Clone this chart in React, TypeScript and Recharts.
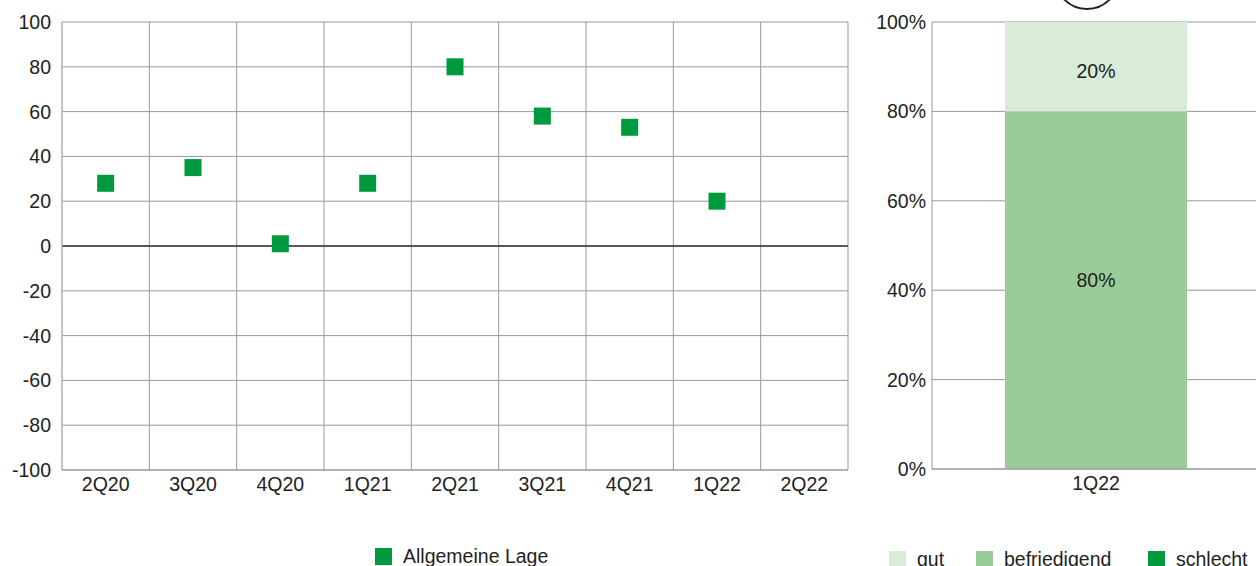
import {
    ComposedChart,
    Scatter,
    XAxis,
    YAxis,
    CartesianGrid,
    ReferenceLine,
    BarChart,
    Bar,
    LabelList,
} from "recharts";

const QUARTERS = ["2Q20", "3Q20", "4Q20", "1Q21", "2Q21", "3Q21", "4Q21", "1Q22", "2Q22"];
const ALLGEMEINE_LAGE: (number | null)[] = [28, 35, 1, 28, 80, 58, 53, 20, null];
const LEFT_TICKS = [-100, -80, -60, -40, -20, 0, 20, 40, 60, 80, 100];

const BAR_CATEGORY = ["1Q22"];
const GUT = [20];
const BEFRIEDIGEND = [80];
const SCHLECHT = [0];
const RIGHT_TICKS = [0, 20, 40, 60, 80, 100];

const GREEN = "#009a3e";
const MID_GREEN = "#99cc99";
const LIGHT_GREEN = "#d9ebd9";
const FONT = "'Liberation Sans', Arial, sans-serif";
const FS = 19.5;
const TEXT = "#222";

const scatterData = QUARTERS.map((q, i) => ({ q, x: i + 0.5, v: ALLGEMEINE_LAGE[i] })).filter(
    (d) => d.v !== null
);

const barData = BAR_CATEGORY.map((c, i) => ({
    c,
    schlecht: SCHLECHT[i],
    befriedigend: BEFRIEDIGEND[i],
    gut: GUT[i],
}));

const SquareDot = (props: any) => {
    const { cx, cy } = props;
    if (cx == null || cy == null) return null;
    return <rect x={cx - 8.5} y={cy - 8.5} width={17} height={17} fill={GREEN} />;
};

const tickStyle = { fontSize: FS, fill: TEXT, fontFamily: FONT };

// percent label in the bar segment, nudged a bit like the original
const pctLabel = (shift: number) => (p: any) => {
    if (!p.value) return null;
    return (
        <text
            x={p.x + p.width / 2}
            y={p.y + p.height / 2 + shift}
            textAnchor="middle"
            dominantBaseline="central"
            fontSize={FS}
            fill={TEXT}
            fontFamily={FONT}
        >
            {`${p.value}%`}
        </text>
    );
};

// legend item: colored square + label, placed absolutely
function LegendItem({ left, top, color, label }: { left: number; top: number; color: string; label: string }) {
    return (
        <div
            style={{
                position: "absolute",
                left,
                top,
                display: "flex",
                alignItems: "center",
                whiteSpace: "nowrap",
                fontSize: FS,
                color: TEXT,
                lineHeight: "20px",
            }}
        >
            <span style={{ display: "inline-block", width: 17, height: 17, background: color, marginRight: 11 }} />
            <span>{label}</span>
        </div>
    );
}

export default function App() {
    return (
        <div
            style={{
                position: "absolute",
                left: 0,
                top: 0,
                width: 1256,
                height: 566,
                overflow: "hidden",
                background: "#fff",
                fontFamily: FONT,
            }}
        >
            <div style={{ position: "absolute", left: 0, top: 0 }}>
                <ComposedChart
                    width={860}
                    height={566}
                    data={scatterData}
                    margin={{ top: 22, right: 12, left: 0, bottom: 66 }}
                >
                    <CartesianGrid
                        stroke="#999"
                        verticalCoordinatesGenerator={({ offset }: any) =>
                            QUARTERS.map((_, i) => offset.left + (offset.width * i) / QUARTERS.length).concat(
                                offset.left + offset.width
                            )
                        }
                    />
                    <XAxis
                        type="number"
                        dataKey="x"
                        domain={[0, QUARTERS.length]}
                        ticks={QUARTERS.map((_, i) => i + 0.5)}
                        tickFormatter={(v: number) => QUARTERS[Math.floor(v)]}
                        tickLine={false}
                        axisLine={{ stroke: "#999" }}
                        tickSize={0}
                        tickMargin={7}
                        tick={tickStyle}
                        interval={0}
                    />
                    <YAxis
                        type="number"
                        domain={[-100, 100]}
                        ticks={LEFT_TICKS}
                        width={62}
                        tickLine={false}
                        axisLine={{ stroke: "#bbb" }}
                        tickSize={0}
                        tickMargin={11}
                        tick={tickStyle}
                        interval={0}
                    />
                    <ReferenceLine y={0} stroke="#333" strokeWidth={1.6} />
                    <Scatter
                        name="Allgemeine Lage"
                        dataKey="v"
                        fill={GREEN}
                        shape={<SquareDot />}
                        isAnimationActive={false}
                    />
                </ComposedChart>
            </div>
            <div style={{ position: "absolute", left: 860, top: 0 }}>
                <BarChart
                    width={400}
                    height={566}
                    data={barData}
                    margin={{ top: 22, right: 0, left: 0, bottom: 67 }}
                >
                    <CartesianGrid stroke="#999" vertical={false} />
                    <XAxis
                        dataKey="c"
                        tickLine={false}
                        axisLine={{ stroke: "#999" }}
                        tickSize={0}
                        tickMargin={7}
                        tick={tickStyle}
                    />
                    <YAxis
                        type="number"
                        domain={[0, 100]}
                        ticks={RIGHT_TICKS}
                        tickFormatter={(v: number) => `${v}%`}
                        width={72}
                        tickLine={false}
                        axisLine={{ stroke: "#999" }}
                        tickSize={0}
                        tickMargin={6}
                        tick={tickStyle}
                        interval={0}
                    />
                    <Bar dataKey="schlecht" stackId="a" fill={GREEN} barSize={182} isAnimationActive={false} />
                    <Bar dataKey="befriedigend" stackId="a" fill={MID_GREEN} barSize={182} isAnimationActive={false}>
                        <LabelList dataKey="befriedigend" content={pctLabel(-10)} />
                    </Bar>
                    <Bar dataKey="gut" stackId="a" fill={LIGHT_GREEN} barSize={182} isAnimationActive={false}>
                        <LabelList dataKey="gut" content={pctLabel(4)} />
                    </Bar>
                </BarChart>
            </div>
            <LegendItem left={375} top={546} color={GREEN} label="Allgemeine Lage" />
            <LegendItem left={889} top={549} color={LIGHT_GREEN} label="gut" />
            <LegendItem left={976} top={549} color={MID_GREEN} label="befriedigend" />
            <LegendItem left={1148} top={549} color={GREEN} label="schlecht" />
            <div
                style={{
                    position: "absolute",
                    left: 1087 - 33,
                    top: -23 - 33,
                    width: 66,
                    height: 66,
                    borderRadius: "50%",
                    border: "2px solid #222",
                    boxSizing: "border-box",
                }}
            />
        </div>
    );
}
